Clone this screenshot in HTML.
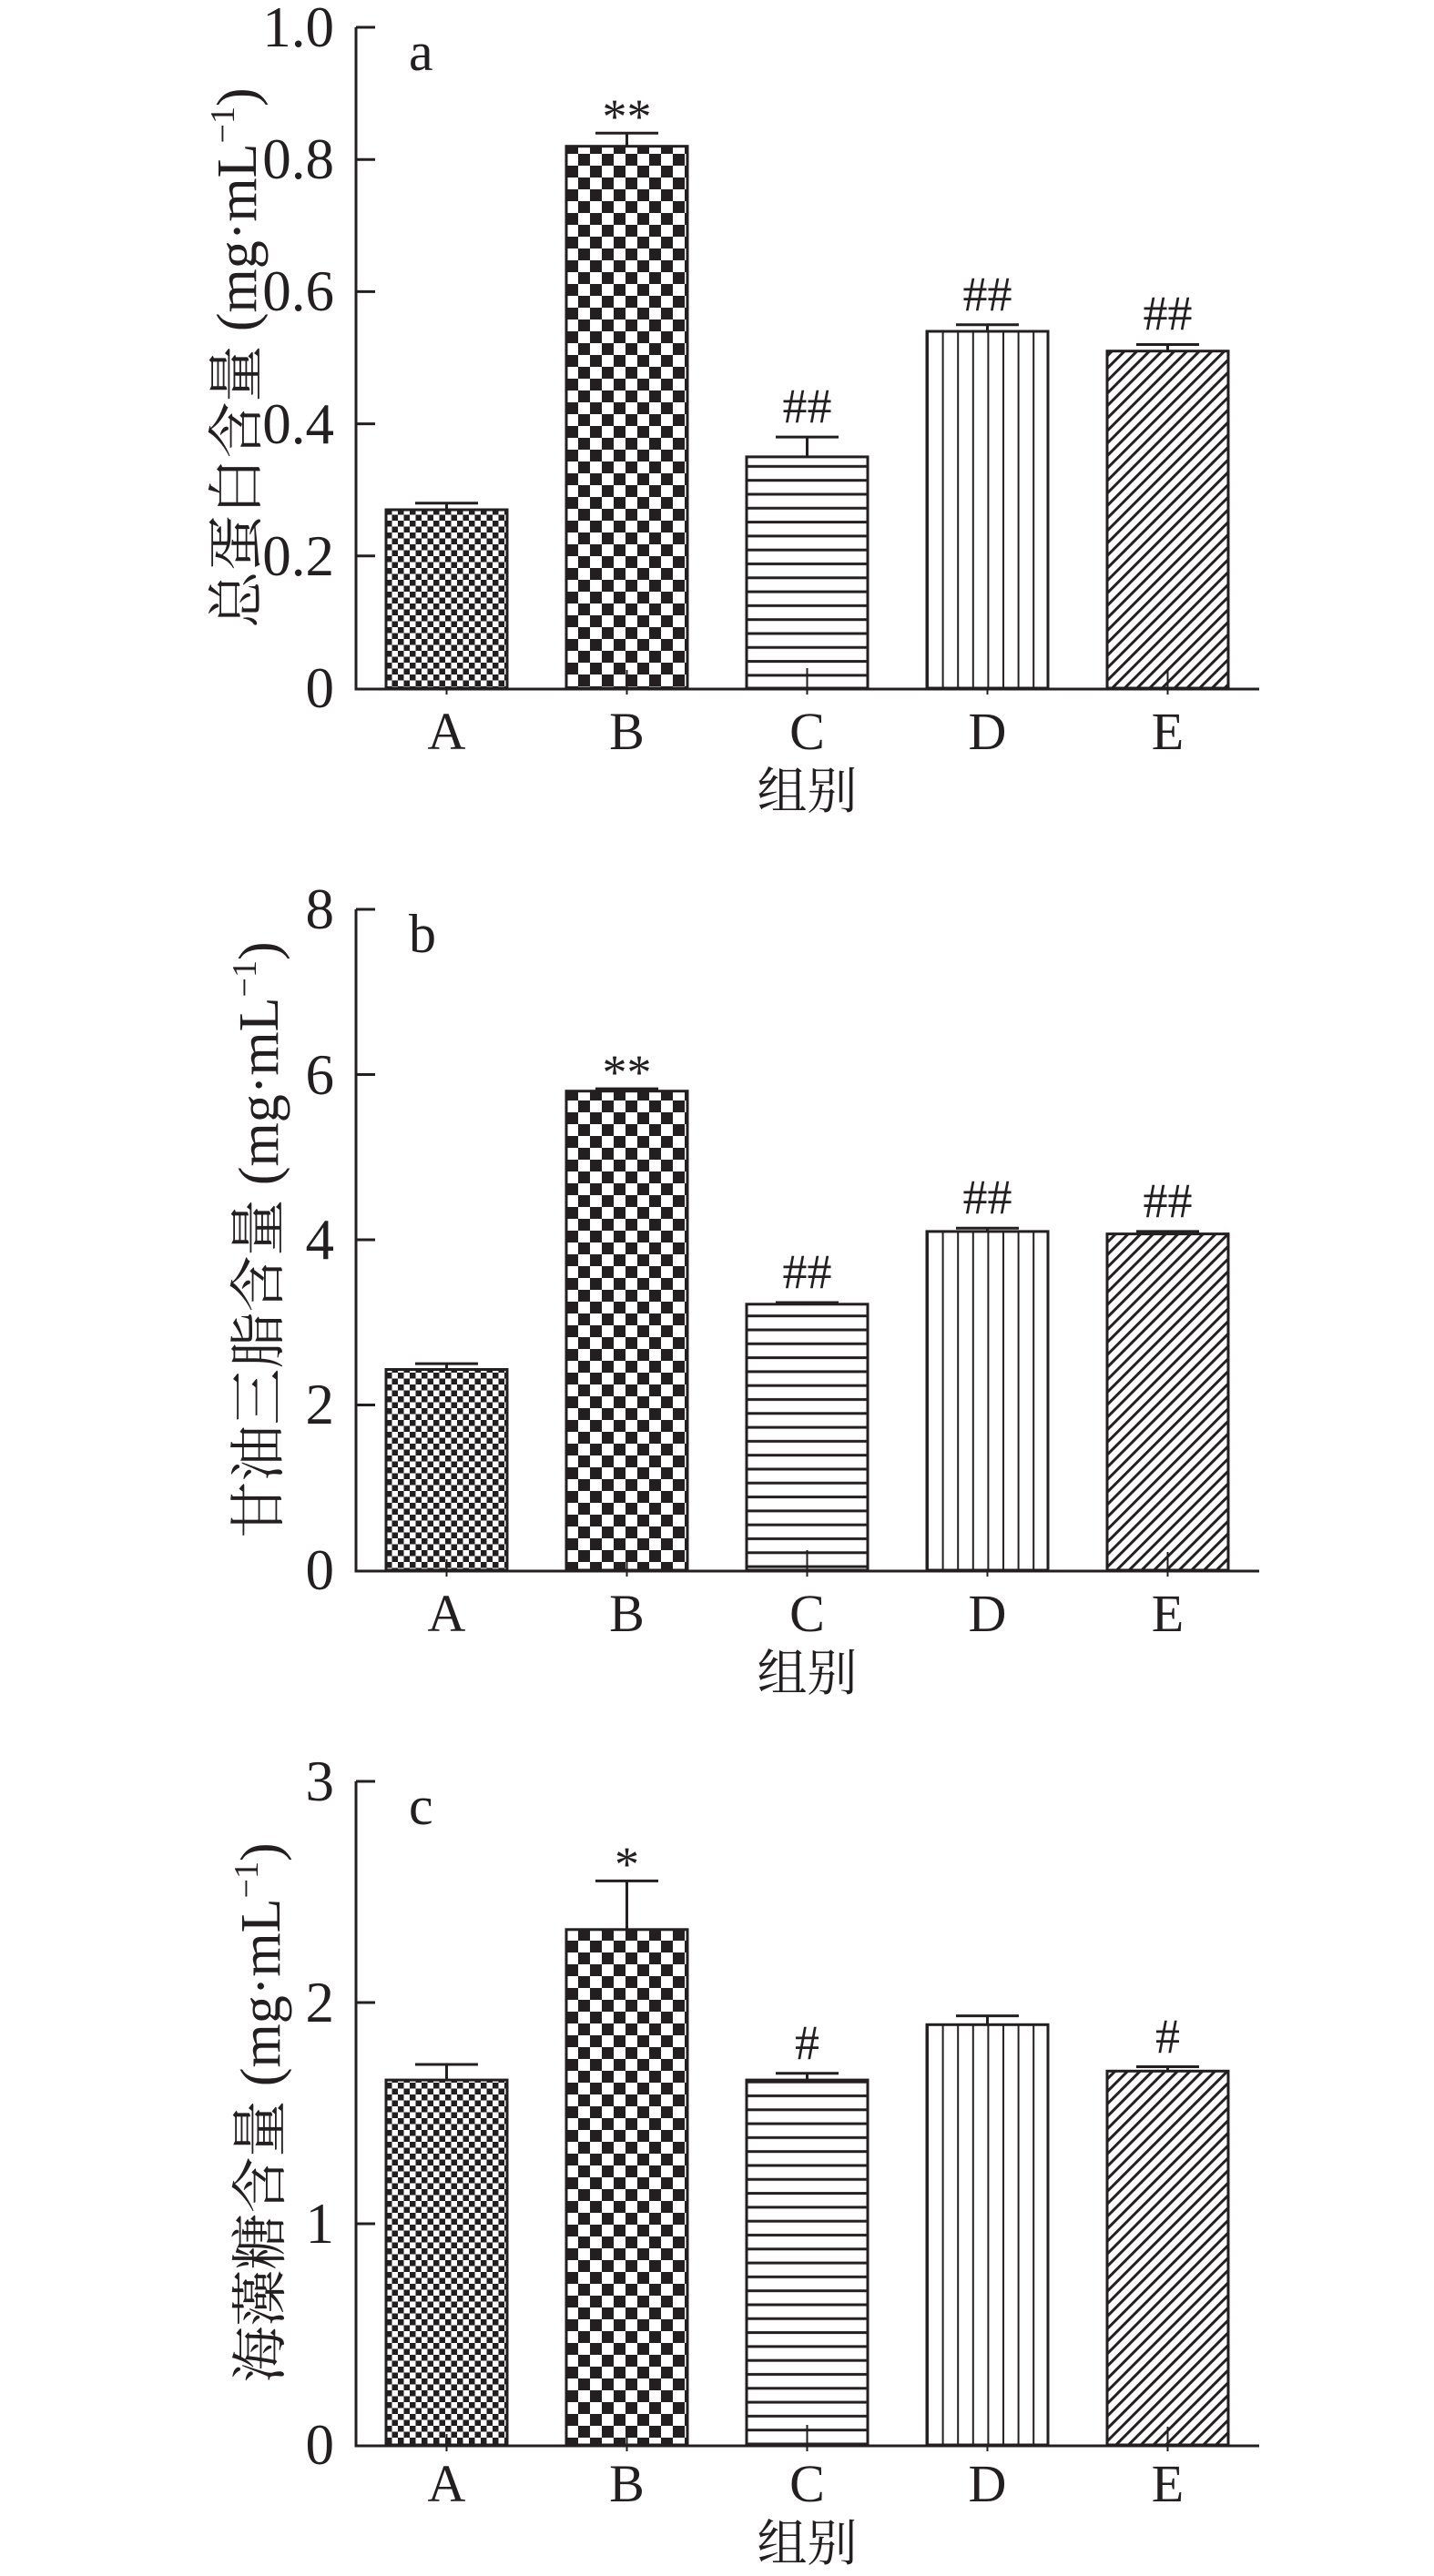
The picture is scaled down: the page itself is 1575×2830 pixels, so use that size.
<!DOCTYPE html>
<html><head><meta charset="utf-8"><style>
html,body{margin:0;padding:0;background:#fff;}
svg{display:block;}
text{font-family:"Liberation Serif","Noto Serif CJK SC",serif;fill:#231f20;}
</style></head><body>
<svg width="1575" height="2830" viewBox="0 0 1575 2830" xmlns="http://www.w3.org/2000/svg">
<defs>
<pattern id="pA" patternUnits="userSpaceOnUse" width="13" height="13" x="424" y="0"><rect width="13" height="13" fill="#fff"/><rect width="6.5" height="6.5" fill="#231f20"/><rect x="6.5" y="6.5" width="6.5" height="6.5" fill="#231f20"/></pattern>
<pattern id="pB" patternUnits="userSpaceOnUse" width="26" height="26" x="622" y="0"><rect width="26" height="26" fill="#fff"/><rect width="13" height="13" fill="#231f20"/><rect x="13" y="13" width="13" height="13" fill="#231f20"/></pattern>
<pattern id="pC" patternUnits="userSpaceOnUse" width="20" height="15.3" x="0" y="0"><rect width="20" height="15.3" fill="#fff"/><rect y="6" width="20" height="3" fill="#231f20"/></pattern>
<pattern id="pD" patternUnits="userSpaceOnUse" width="16.6" height="20" x="1018" y="0"><rect width="16.6" height="20" fill="#fff"/><rect x="0" width="2" height="20" fill="#231f20"/></pattern>
<pattern id="pE" patternUnits="userSpaceOnUse" width="9.7" height="20" patternTransform="rotate(45)"><rect width="9.7" height="20" fill="#fff"/><rect width="3" height="20" fill="#231f20"/></pattern>
</defs>

<g stroke="#231f20" stroke-width="3" fill="none">
<path d="M391,30 V757 H1383"/>
<path d="M391,30 H412 M391,175.2 H412 M391,320.4 H412 M391,465.6 H412 M391,610.8 H412"/>
<path d="M490.5,757 v6 M688.5,757 v6 M886.5,757 v6 M1084.5,757 v6 M1282.5,757 v6" stroke-width="2"/>
<path d="M391,999 V1726 H1383"/>
<path d="M391,999 H412 M391,1180.5 H412 M391,1362 H412 M391,1543.5 H412"/>
<path d="M490.5,1726 v6 M688.5,1726 v6 M886.5,1726 v6 M1084.5,1726 v6 M1282.5,1726 v6" stroke-width="2"/>
<path d="M391,1957 V2687 H1383"/>
<path d="M391,1957 H412 M391,2200 H412 M391,2443 H412"/>
<path d="M490.5,2687 v6 M688.5,2687 v6 M886.5,2687 v6 M1084.5,2687 v6 M1282.5,2687 v6" stroke-width="2"/>
</g>

<g stroke="#231f20" stroke-width="3">
<rect x="424" y="560" width="133" height="196" fill="url(#pA)"/>
<rect x="622" y="160.7" width="133" height="595.3" fill="url(#pB)"/>
<rect x="820" y="501.9" width="133" height="254.1" fill="url(#pC)"/>
<rect x="1018" y="364" width="133" height="392" fill="url(#pD)"/>
<rect x="1216" y="385.7" width="133" height="370.3" fill="url(#pE)"/>
<rect x="424" y="1504.5" width="133" height="220.5" fill="url(#pA)"/>
<rect x="622" y="1198.7" width="133" height="526.3" fill="url(#pB)"/>
<rect x="820" y="1432.8" width="133" height="292.2" fill="url(#pC)"/>
<rect x="1018" y="1352.9" width="133" height="372.1" fill="url(#pD)"/>
<rect x="1216" y="1355.6" width="133" height="369.4" fill="url(#pE)"/>
<rect x="424" y="2285.1" width="133" height="400.9" fill="url(#pA)"/>
<rect x="622" y="2119.8" width="133" height="566.2" fill="url(#pB)"/>
<rect x="820" y="2285.1" width="133" height="400.9" fill="url(#pC)"/>
<rect x="1018" y="2224.3" width="133" height="461.7" fill="url(#pD)"/>
<rect x="1216" y="2275.3" width="133" height="410.7" fill="url(#pE)"/>
</g>

<g stroke="#231f20" stroke-width="3" fill="none">
<path d="M490.5,560 V552.7 M456,552.7 H525"/>
<path d="M688.5,160.7 V146.2 M654,146.2 H723"/>
<path d="M886.5,501.9 V480.1 M852,480.1 H921"/>
<path d="M1084.5,364 V356.7 M1050,356.7 H1119"/>
<path d="M1282.5,385.7 V378.5 M1248,378.5 H1317"/>
<path d="M886.5,756 v-22 M688.5,756 v-20 M1282.5,756 v-20" stroke-width="2"/>
<path d="M490.5,1504.5 V1498.1 M456,1498.1 H525"/>
<path d="M688.5,1198.7 V1196.1 M654,1196.1 H723"/>
<path d="M886.5,1432.8 V1431 M852,1431 H921"/>
<path d="M1084.5,1352.9 V1349.3 M1050,1349.3 H1119"/>
<path d="M1282.5,1355.6 V1352.9 M1248,1352.9 H1317"/>
<path d="M886.5,1725 v-22 M688.5,1725 v-20 M1282.5,1725 v-20 M490.5,1725 v-12" stroke-width="2"/>
<path d="M490.5,2285.1 V2268 M456,2268 H525"/>
<path d="M688.5,2119.8 V2066.4 M654,2066.4 H723"/>
<path d="M886.5,2285.1 V2277.8 M852,2277.8 H921"/>
<path d="M1084.5,2224.3 V2214.6 M1050,2214.6 H1119"/>
<path d="M1282.5,2275.3 V2270.5 M1248,2270.5 H1317"/>
<path d="M886.5,2686 v-22 M688.5,2686 v-20 M1282.5,2686 v-20 M490.5,2686 v-12" stroke-width="2"/>
</g>

<g font-size="63" text-anchor="end">
<text x="367" y="51">1.0</text><text x="367" y="196">0.8</text><text x="367" y="341">0.6</text><text x="367" y="487">0.4</text><text x="367" y="632">0.2</text><text x="367" y="777">0</text>
<text x="367" y="1020">8</text><text x="367" y="1202">6</text><text x="367" y="1383">4</text><text x="367" y="1564">2</text><text x="367" y="1746">0</text>
<text x="367" y="1978">3</text><text x="367" y="2221">2</text><text x="367" y="2464">1</text><text x="367" y="2707">0</text>
</g>

<g font-size="58" text-anchor="middle">
<text x="490.5" y="823">A</text><text x="688.5" y="823">B</text><text x="886.5" y="823">C</text><text x="1084.5" y="823">D</text><text x="1282.5" y="823">E</text>
<text x="490.5" y="1792">A</text><text x="688.5" y="1792">B</text><text x="886.5" y="1792">C</text><text x="1084.5" y="1792">D</text><text x="1282.5" y="1792">E</text>
<text x="490.5" y="2748">A</text><text x="688.5" y="2748">B</text><text x="886.5" y="2748">C</text><text x="1084.5" y="2748">D</text><text x="1282.5" y="2748">E</text>
</g>
<g font-size="55" text-anchor="middle">
<text x="886.5" y="888">组别</text>
<text x="886.5" y="1857">组别</text>
<text x="886.5" y="2813">组别</text>
</g>

<g font-size="60">
<text x="449" y="77">a</text>
<text x="449" y="1046">b</text>
<text x="449" y="2004">c</text>
</g>

<g font-size="54" text-anchor="middle">
<text x="688.5" y="146">**</text>
<text x="886.5" y="464">##</text>
<text x="1084.5" y="341">##</text>
<text x="1282.5" y="362">##</text>
<text x="688.5" y="1196">**</text>
<text x="886.5" y="1415">##</text>
<text x="1084.5" y="1333">##</text>
<text x="1282.5" y="1337">##</text>
<text x="688.5" y="2066">*</text>
<text x="886.5" y="2262">#</text>
<text x="1282.5" y="2255">#</text>
</g>

<g font-size="62" text-anchor="middle">
<text transform="translate(281,393) rotate(-90)">总蛋白含量 (mg·mL<tspan font-size="38" dy="-24">−1</tspan><tspan dy="24">)</tspan></text>
<text transform="translate(305,1362) rotate(-90)">甘油三脂含量 (mg·mL<tspan font-size="38" dy="-24">−1</tspan><tspan dy="24">)</tspan></text>
<text transform="translate(307,2321) rotate(-90)">海藻糖含量 (mg·mL<tspan font-size="38" dy="-24">−1</tspan><tspan dy="24">)</tspan></text>
</g>
</svg>
</body></html>
